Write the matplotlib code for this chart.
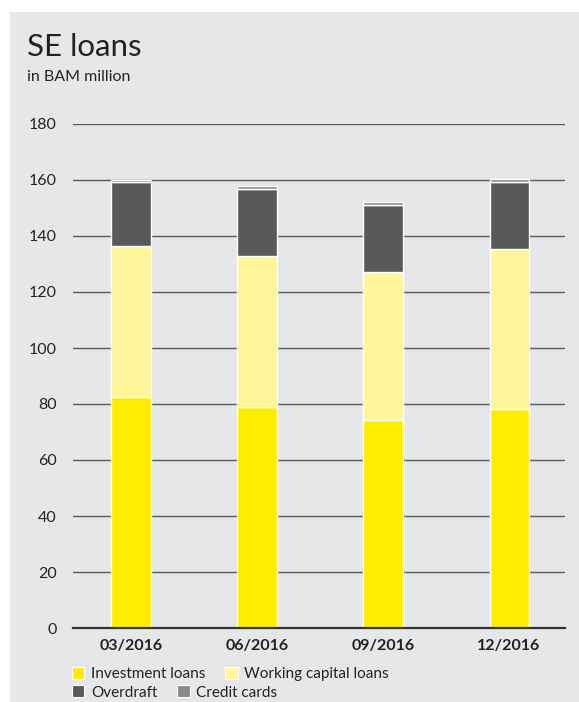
import matplotlib
matplotlib.use("Agg")
import matplotlib.pyplot as plt
from matplotlib.patches import Rectangle, Patch
import numpy as np

categories = ["03/2016", "06/2016", "09/2016", "12/2016"]
investment = [82.5, 78.9, 74.3, 78.2]
working_capital = [53.9, 54.0, 52.8, 57.2]
overdraft = [22.9, 23.9, 24.0, 23.9]
credit_cards = [0.8, 1.1, 1.0, 1.1]
yticks = [0, 20, 40, 60, 80, 100, 120, 140, 160, 180]

c_inv = "#ffed00"
c_wc = "#fff59a"
c_od = "#58595b"
c_cc = "#8a8b8d"
bg = "#e6e7e8"

plt.rcParams['font.family'] = ['Lato', 'DejaVu Sans']

fig = plt.figure(figsize=(5.79, 7.02), dpi=100)
fig.patch.set_facecolor("white")
fig.add_artist(Rectangle((10/579, 0), 1 - 10/579, 1 - 12/702, transform=fig.transFigure,
                         facecolor=bg, edgecolor="none", zorder=-10))

ax = fig.add_axes([73/579, 1 - 628/702, (565-73)/579, (628-124)/702])
ax.set_facecolor("none")
x = np.arange(len(categories))
w = 0.31
b1 = np.array(investment)
b2 = b1 + np.array(working_capital)
b3 = b2 + np.array(overdraft)
kw = dict(width=w, edgecolor="white", linewidth=1.0, zorder=3)
ax.bar(x, investment, color=c_inv, **kw)
ax.bar(x, working_capital, bottom=b1, color=c_wc, **kw)
ax.bar(x, overdraft, bottom=b2, color=c_od, **kw)
ax.bar(x, credit_cards, bottom=b3, color=c_cc, **kw)

ax.set_ylim(0, 180)
ax.set_xlim(-0.46, 3.444)
ax.set_yticks(yticks)
ax.set_yticklabels([str(t) for t in yticks], fontsize=11.5, color="#222222")
ax.set_xticks(x)
ax.set_xticklabels(categories, fontsize=11.5, fontweight="bold", color="#222222")
ax.tick_params(axis="both", length=0)
ax.tick_params(axis="y", pad=11.5)
ax.tick_params(axis="x", pad=8)
for s in ["left", "right", "top"]:
    ax.spines[s].set_visible(False)
ax.spines["bottom"].set_color("#333333")
ax.spines["bottom"].set_linewidth(1.6)
ax.spines["bottom"].set_zorder(4)
ax.yaxis.grid(True, color="#58595b", linewidth=1.0, zorder=0)
ax.set_axisbelow(True)

fig.text(27/579, 1 - 56/702, "SE loans", fontsize=22.5, color="#222222")
fig.text(27/579, 1 - 81/702, "in BAM million", fontsize=11.5, color="#222222")

def h(c):
    return Patch(facecolor=c, edgecolor="white", linewidth=0.8)

lkw = dict(frameon=False, fontsize=11, ncol=2, handlelength=0.8, handleheight=0.8,
           handletextpad=0.45, columnspacing=1.3, borderaxespad=0, borderpad=0,
           loc="center left", labelcolor="#222222")
fig.legend([h(c_inv), h(c_wc)], ["Investment loans", "Working capital loans"],
           bbox_to_anchor=(72/579, 1 - 674/702), **lkw)
fig.legend([h(c_od), h(c_cc)], ["Overdraft", "Credit cards"],
           bbox_to_anchor=(72/579, 1 - 692.5/702), **lkw)

fig.savefig("out.png", dpi=100, facecolor="white")
